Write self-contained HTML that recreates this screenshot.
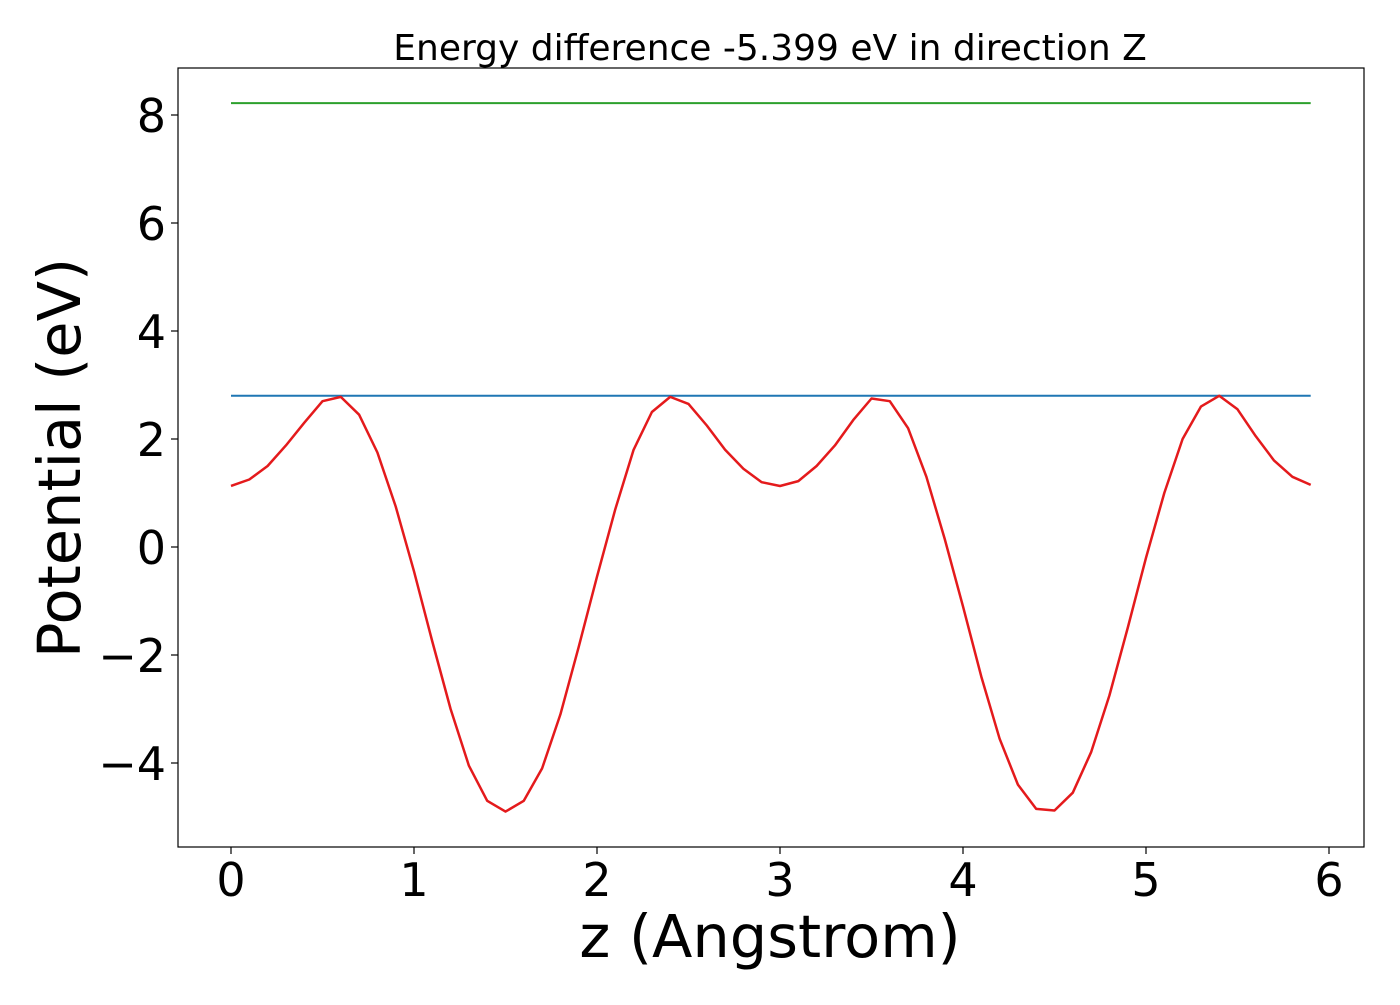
<!DOCTYPE html>
<html><head><meta charset="utf-8"><style>
body{margin:0;background:#fff;}
svg text{font-family:"DejaVu Sans","Liberation Sans",sans-serif;fill:#000;}
</style></head><body>
<svg id="chart" width="1400" height="1000" xmlns="http://www.w3.org/2000/svg">
<rect width="1400" height="1000" fill="#fff"/>
<text x="770" y="60" font-size="36" text-anchor="middle">Energy difference -5.399 eV in direction Z</text>
<g id="marks"></g>
<g id="axes"></g>
<rect x="178" y="68" width="1186" height="779" fill="none" stroke="#000" stroke-width="1.2"/>
<text x="770" y="957" font-size="59" text-anchor="middle">z (Angstrom)</text>
<text transform="translate(80,458) rotate(-90)" font-size="59" text-anchor="middle">Potential (eV)</text>
</svg>
<script>
const xTicks=[0,1,2,3,4,5,6];
const yTicks=[-4,-2,0,2,4,6,8];
const yTickLabels=["\u22124","\u22122","0","2","4","6","8"];
const zValues=[0,0.1,0.2,0.3,0.4,0.5,0.6,0.7,0.8,0.9,1.0,1.1,1.2,1.3,1.4,1.5,1.6,1.7,1.8,1.9,2.0,2.1,2.2,2.3,2.4,2.5,2.6,2.7,2.8,2.9,3.0,3.1,3.2,3.3,3.4,3.5,3.6,3.7,3.8,3.9,4.0,4.1,4.2,4.3,4.4,4.5,4.6,4.7,4.8,4.9,5.0,5.1,5.2,5.3,5.4,5.5,5.6,5.7,5.8,5.9];
const potential=[1.13,1.25,1.5,1.88,2.3,2.7,2.78,2.45,1.75,0.75,-0.45,-1.75,-3.0,-4.05,-4.7,-4.9,-4.7,-4.1,-3.1,-1.85,-0.55,0.7,1.8,2.5,2.78,2.65,2.25,1.8,1.45,1.2,1.13,1.22,1.5,1.88,2.35,2.75,2.7,2.2,1.3,0.15,-1.1,-2.4,-3.55,-4.4,-4.85,-4.88,-4.55,-3.8,-2.75,-1.5,-0.2,1.0,2.0,2.6,2.8,2.55,2.05,1.6,1.3,1.15];
const maxLevel=[8.22];
const barrierLevel=[2.8];
const xRange=[0,5.9];

const X=v=>231+v*183;
const Y=v=>547-v*54;
const NS="http://www.w3.org/2000/svg";
const marks=document.getElementById('marks'), axes=document.getElementById('axes');
function mk(tag,attrs,parent){const e=document.createElementNS(NS,tag);for(const k in attrs)e.setAttribute(k,attrs[k]);parent.appendChild(e);return e;}

let l=mk('line',{x1:X(xRange[0]),x2:X(xRange[1]),y1:Y(maxLevel[0]),y2:Y(maxLevel[0]),stroke:'#2ca02c','stroke-width':2},marks);


l=mk('line',{x1:X(xRange[0]),x2:X(xRange[1]),y1:Y(barrierLevel[0]),y2:Y(barrierLevel[0]),stroke:'#1f77b4','stroke-width':2},marks);


const p=mk('polyline',{points:zValues.map((z,i)=>X(z)+','+Y(potential[i])).join(' '),fill:'none',stroke:'#e41a1c','stroke-width':2.5,'stroke-linejoin':'round'},marks);



xTicks.forEach(t=>{
  const tk=mk('line',{x1:X(t),x2:X(t),y1:847,y2:854,stroke:'#000','stroke-width':1.2},axes);
  
  
  const tx=mk('text',{x:X(t),y:896,'font-size':46,'text-anchor':'middle'},axes);
  tx.textContent=t;
  
  
});
yTicks.forEach((t,i)=>{
  const tk=mk('line',{x1:171,x2:178,y1:Y(t),y2:Y(t),stroke:'#000','stroke-width':1.2},axes);
  
  
  const tx=mk('text',{x:166,y:Y(t)+17,'font-size':46,'text-anchor':'end'},axes);
  tx.textContent=yTickLabels[i];
  
  
});
</script>
</body></html>
